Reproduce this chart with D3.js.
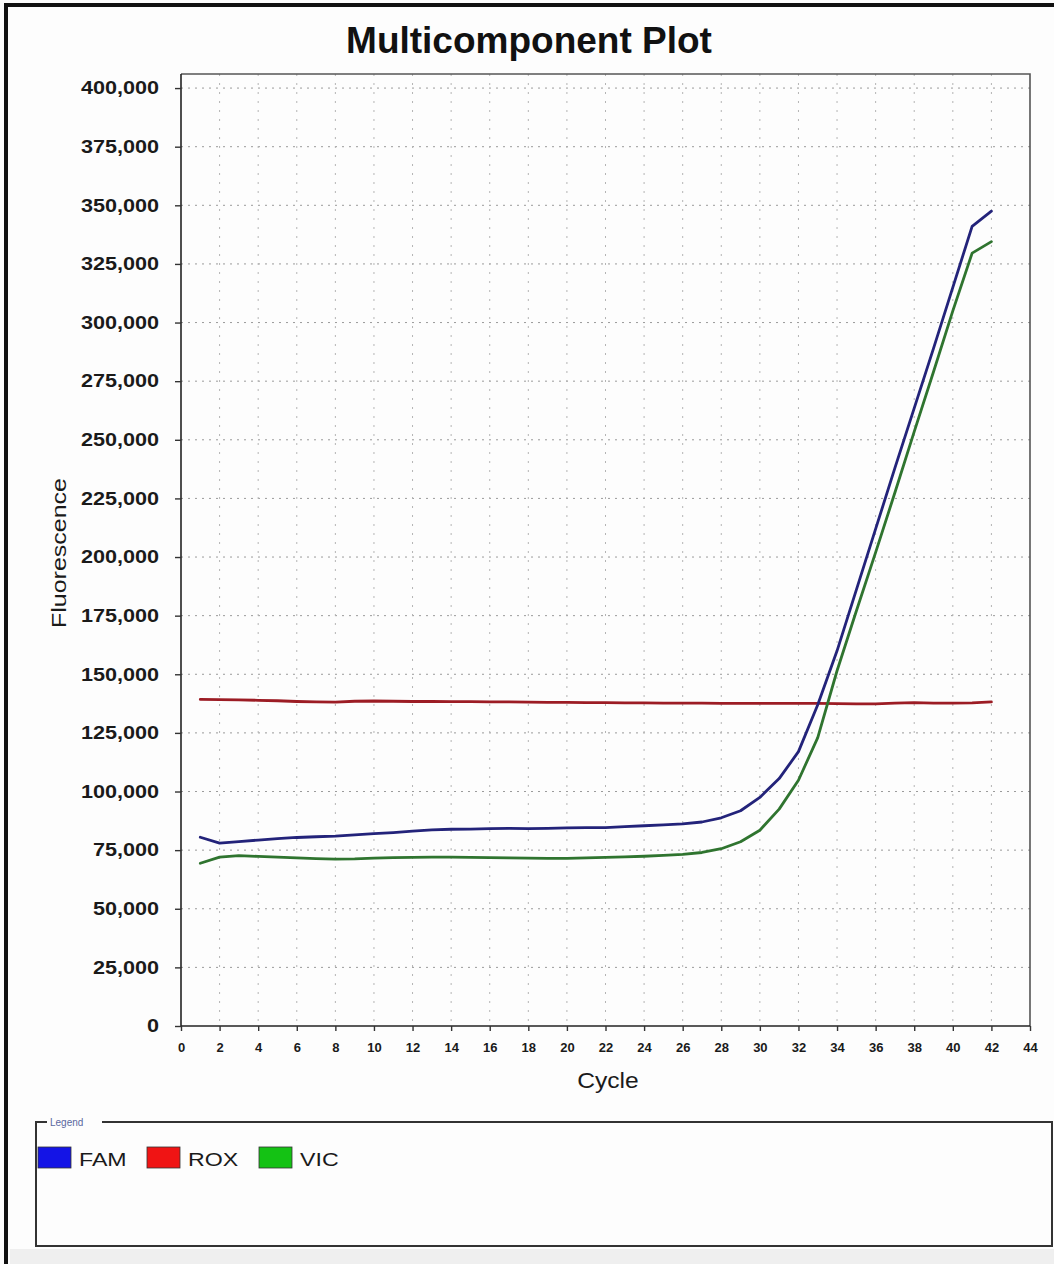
<!DOCTYPE html>
<html>
<head>
<meta charset="utf-8">
<script src="https://cdn.jsdelivr.net/npm/d3@7"></script>
<style>
  html, body { margin: 0; padding: 0; background: #ffffff; }
  svg { display: block; }
</style>
</head>
<body>
<svg id="chart" width="1054" height="1264"></svg>
<script>
// ---- data ----
const cycles = d3.range(1, 43);

const famValues = [
  80500, 78000, 78600, 79300, 79900, 80400, 80700, 81000, 81500, 82000,
  82500, 83100, 83600, 83900, 84000, 84200, 84300, 84200, 84300, 84500,
  84600, 84600, 85000, 85400, 85800, 86200, 87000, 88800, 91800, 97500,
  105500, 117000, 137000, 160000, 186000, 212000, 238000, 263500, 289000, 315000,
  341000, 347500
];

const roxValues = [
  139300, 139200, 139100, 138900, 138700, 138400, 138200, 138100, 138500, 138600,
  138500, 138400, 138400, 138300, 138300, 138200, 138200, 138100, 138000, 138000,
  137900, 137900, 137800, 137800, 137700, 137700, 137700, 137600, 137600, 137600,
  137600, 137600, 137600, 137500, 137400, 137400, 137700, 137900, 137700, 137700,
  137800, 138200
];

const vicValues = [
  69400, 72000, 72700, 72300, 72000, 71700, 71400, 71200, 71300, 71600,
  71800, 71900, 72000, 72000, 71900, 71800, 71700, 71600, 71500, 71500,
  71700, 71900, 72100, 72400, 72800, 73200, 74000, 75600, 78600, 83500,
  92500, 104800, 123000, 151500, 177000, 202000, 227500, 253500, 279000, 305000,
  329600, 334500
];

const seriesNames = ["FAM", "ROX", "VIC"];
const xTickValues = d3.range(0, 45, 2);
const yTickValues = d3.range(0, 400001, 25000);

const titleText = "Multicomponent Plot";
const xTitle = "Cycle";
const yTitle = "Fluorescence";
const legendTitle = "Legend";

// ---- layout ----
const W = 1054, H = 1264;
const plot = { left: 181, right: 1030, top: 74, bottom: 1026 };

const lineColor = { FAM: "#23237a", ROX: "#9c1c24", VIC: "#2f742f" };
const swatchColor = { FAM: "#1414e6", ROX: "#f01414", VIC: "#14c214" };

const svg = d3.select("#chart");

svg.append("rect").attr("width", W).attr("height", H).attr("fill", "#fdfdfd");

// page edges
svg.append("rect").attr("x", 10).attr("y", 1249).attr("width", W - 10).attr("height", H - 1249).attr("fill", "#efefef");
svg.append("rect").attr("x", 4).attr("y", 3).attr("width", W - 4).attr("height", 4).attr("fill", "#111");
svg.append("rect").attr("x", 4).attr("y", 3).attr("width", 4).attr("height", H - 3).attr("fill", "#111");

// ---- scales ----
const x = d3.scaleLinear().domain([0, 44]).range([plot.left, plot.right]);
const y = d3.scaleLinear().domain([0, 406000]).range([plot.bottom, plot.top]);

// ---- grid ----
const grid = svg.append("g");
grid.selectAll("line.h").data(yTickValues.filter(d => d > 0)).join("line")
  .attr("x1", plot.left).attr("x2", plot.right)
  .attr("y1", d => y(d)).attr("y2", d => y(d))
  .attr("stroke", "#9a9a9a").attr("stroke-width", 1).attr("stroke-dasharray", "2,5");
grid.selectAll("line.v").data(xTickValues.filter(d => d > 0 && d < 44)).join("line")
  .attr("x1", d => x(d)).attr("x2", d => x(d))
  .attr("y1", plot.top).attr("y2", plot.bottom)
  .attr("stroke", "#b4b4b4").attr("stroke-width", 1).attr("stroke-dasharray", "2,7");

// plot frame (top and right)
svg.append("path")
  .attr("d", `M${plot.left},${plot.top}H${plot.right}V${plot.bottom}`)
  .attr("fill", "none").attr("stroke", "#555").attr("stroke-width", 1.6);

// ---- axes ----
const yAxis = svg.append("g")
  .attr("transform", `translate(${plot.left},0)`)
  .call(d3.axisLeft(y).tickValues(yTickValues).tickFormat(d3.format(",")).tickSize(6).tickPadding(10));
yAxis.select(".domain").attr("stroke", "#222").attr("stroke-width", 1.6)
  .attr("d", `M0,${plot.bottom}V${plot.top}`);
yAxis.selectAll(".tick line").attr("stroke", "#333").attr("stroke-width", 1.4);
yAxis.selectAll(".tick text")
  .attr("font-family", "'Liberation Sans', Arial, sans-serif")
  .attr("font-size", 18).attr("font-weight", "bold").attr("fill", "#1a1a1a")
  .attr("x", null)
  .attr("transform", "translate(-22,0) scale(1.2,1)");

const xAxis = svg.append("g")
  .attr("transform", `translate(0,${plot.bottom})`)
  .call(d3.axisBottom(x).tickValues(xTickValues).tickSize(5).tickPadding(12));
xAxis.select(".domain").attr("stroke", "#222").attr("stroke-width", 1.6)
  .attr("d", `M${plot.left},0H${plot.right}`);
xAxis.selectAll(".tick line").attr("stroke", "#333").attr("stroke-width", 1.4);
xAxis.selectAll(".tick text")
  .attr("font-family", "'Liberation Sans', Arial, sans-serif")
  .attr("font-size", 13).attr("font-weight", "bold").attr("fill", "#1a1a1a");

// ---- titles ----
svg.append("text")
  .attr("x", 529).attr("y", 53).attr("text-anchor", "middle")
  .attr("font-family", "'Liberation Sans', Arial, sans-serif")
  .attr("font-size", 37).attr("font-weight", "bold").attr("fill", "#111")
  .text(titleText);

svg.append("text")
  .attr("transform", "translate(608,1088) scale(1.12,1)")
  .attr("text-anchor", "middle")
  .attr("font-family", "'Liberation Sans', Arial, sans-serif")
  .attr("font-size", 22).attr("fill", "#1a1a1a")
  .text(xTitle);

svg.append("text")
  .attr("transform", "translate(66,553) rotate(-90) scale(1.25,1)")
  .attr("text-anchor", "middle")
  .attr("font-family", "'Liberation Sans', Arial, sans-serif")
  .attr("font-size", 20).attr("fill", "#1a1a1a")
  .text(yTitle);

// ---- series ----
const seriesData = {
  FAM: cycles.map((c, i) => [c, famValues[i]]),
  ROX: cycles.map((c, i) => [c, roxValues[i]]),
  VIC: cycles.map((c, i) => [c, vicValues[i]])
};
const line = d3.line().x(d => x(d[0])).y(d => y(d[1])).curve(d3.curveLinear);

["ROX", "VIC", "FAM"].forEach(name => {
  svg.append("path")
    .datum(seriesData[name])
    .attr("d", line)
    .attr("fill", "none")
    .attr("stroke", lineColor[name])
    .attr("stroke-width", 2.8)
    .attr("stroke-linejoin", "round")
    .attr("stroke-linecap", "round");
});

// ---- legend ----
const lg = svg.append("g");
lg.append("path")
  .attr("d", "M47,1122H36V1246H1052V1122H102")
  .attr("fill", "none").attr("stroke", "#333").attr("stroke-width", 2);
lg.append("text")
  .attr("x", 50).attr("y", 1126)
  .attr("font-family", "'Liberation Sans', Arial, sans-serif")
  .attr("font-size", 10).attr("fill", "#5a68a0")
  .text(legendTitle);

const legendX = { FAM: 38, ROX: 147, VIC: 259 };
seriesNames.forEach(name => {
  lg.append("rect")
    .attr("x", legendX[name]).attr("y", 1147)
    .attr("width", 33).attr("height", 21)
    .attr("fill", swatchColor[name]).attr("stroke", "#333").attr("stroke-width", 0.8);
  lg.append("text")
    .attr("transform", `translate(${legendX[name] + 41},1166) scale(1.22,1)`)
    .attr("font-family", "'Liberation Sans', Arial, sans-serif")
    .attr("font-size", 19).attr("fill", "#1a1a1a")
    .text(name);
});
</script>
</body>
</html>
